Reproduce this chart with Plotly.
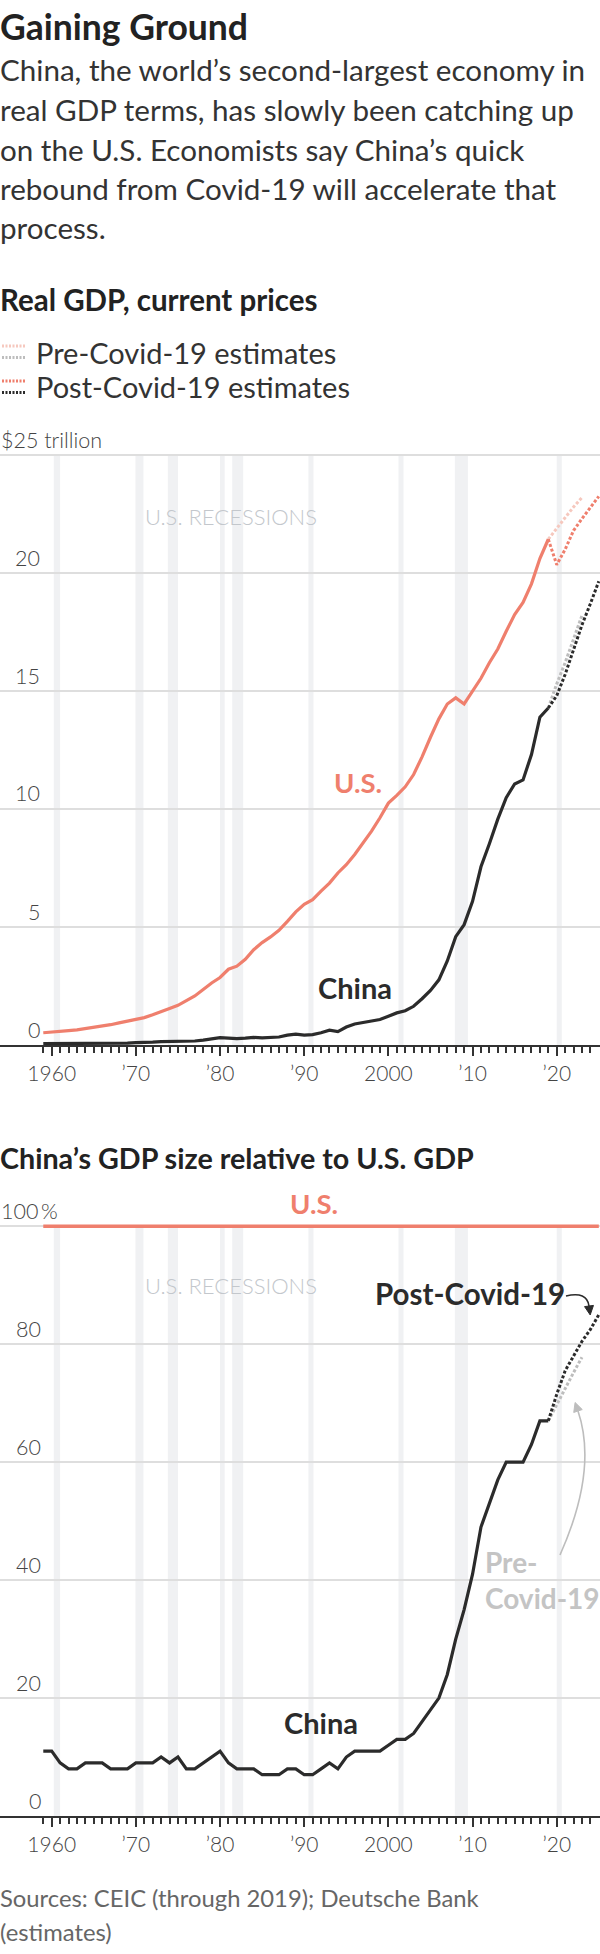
import plotly.graph_objects as go

W, H = 600, 1954
FONT = "Lato"

# ---------------- data ----------------
years_hist = list(range(1959, 2020))
us_gdp = [0.52, 0.54, 0.56, 0.61, 0.64, 0.69, 0.74, 0.82, 0.86, 0.94,
          1.02, 1.07, 1.16, 1.28, 1.43, 1.55, 1.68, 1.87, 2.08, 2.35,
          2.63, 2.86, 3.21, 3.34, 3.63, 4.04, 4.34, 4.58, 4.86, 5.24,
          5.64, 5.96, 6.16, 6.52, 6.86, 7.29, 7.64, 8.07, 8.58, 9.06,
          9.63, 10.25, 10.58, 10.94, 11.46, 12.21, 13.04, 13.82, 14.45, 14.71,
          14.45, 14.99, 15.54, 16.20, 16.78, 17.53, 18.24, 18.75, 19.54, 20.61,
          21.43]
china_gdp = [0.06, 0.06, 0.05, 0.05, 0.05, 0.06, 0.07, 0.07, 0.07, 0.08,
             0.08, 0.10, 0.10, 0.12, 0.14, 0.14, 0.17, 0.15, 0.17, 0.21,
             0.26, 0.31, 0.29, 0.27, 0.29, 0.32, 0.30, 0.32, 0.34, 0.42,
             0.46, 0.42, 0.44, 0.52, 0.63, 0.57, 0.76, 0.89, 0.95, 1.02,
             1.08, 1.22, 1.36, 1.45, 1.64, 1.96, 2.31, 2.76, 3.56, 4.59,
             5.10, 6.09, 7.55, 8.53, 9.57, 10.48, 11.06, 11.23, 12.31, 13.89,
             14.28]

years_pre = [2019, 2020, 2021, 2022, 2023]
us_pre = [21.43, 21.9, 22.35, 22.8, 23.2]
china_pre = [14.28, 15.3, 16.2, 17.2, 18.2]

years_post = [2019, 2020, 2021, 2022, 2023, 2024, 2025]
us_post = [21.43, 20.35, 21.0, 21.8, 22.3, 22.8, 23.25]
china_post = [14.28, 14.8, 15.7, 16.75, 17.8, 18.7, 19.65]

ratio_china = [11, 11, 9, 8, 8, 9, 9, 9, 8, 8,
               8, 9, 9, 9, 10, 9, 10, 8, 8, 9,
               10, 11, 9, 8, 8, 8, 7, 7, 7, 8,
               8, 7, 7, 8, 9, 8, 10, 11, 11, 11,
               11, 12, 13, 13, 14, 16, 18, 20, 24, 30,
               35, 41, 49, 53, 57, 60, 60, 60, 63, 67,
               67]
ratio_pre = [67, 69.8, 72.5, 75.2, 77.8]
ratio_post = [67, 71.5, 75.5, 78, 80.5, 82.5, 85]
us_ratio_years = [1959, 2025]
us_ratio = [100, 100]

recessions = [(1960.25, 1961.0), (1969.95, 1970.9), (1973.8, 1975.0),
              (1980.0, 1980.55), (1981.45, 1982.75), (1990.5, 1991.1),
              (2001.2, 2001.8), (2007.9, 2009.45), (2020.0, 2020.6)]

xtick_vals = [1960, 1970, 1980, 1990, 2000, 2010, 2020]
xtick_text = ["1960", "\u201970", "\u201980", "\u201990", "2000", "\u201910", "\u201920"]
minor_ticks = list(range(1959, 2025))

y1_ticks = [0, 5, 10, 15, 20, 25]
y1_text = ["0", "5", "10", "15", "20", "$25 trillion"]
y2_ticks = [0, 20, 40, 60, 80, 100]
y2_text = ["0", "20", "40", "60", "80", "100\u2009%"]

subtitle_lines = [
    "China, the world\u2019s second-largest economy in",
    "real GDP terms, has slowly been catching up",
    "on the U.S. Economists say China\u2019s quick",
    "rebound from Covid-19 will accelerate that",
    "process.",
]

# ---------------- colours ----------------
US_C = "#ef7f6d"
US_PRE = "#f6c8be"
CN_C = "#2b2b2b"
CN_PRE = "#bdbdbd"
BAND = "#f0f1f3"
GRID = "#dedede"
AX = "#333333"

# ---------------- geometry helpers ----------------
YEAR_PX0, PX_PER_YEAR = 51.7, 8.417  # 1960 at x=51.7
def year_at(px):
    return 1960 + (px - YEAR_PX0) / PX_PER_YEAR

XR = [year_at(0), year_at(W)]

def ydomain(v0, p0, v1, p1, lo, hi):
    k = (p0 - p1) / (v1 - v0)
    bot = p0 + (v0 - lo) * k
    top = p1 - (hi - v1) * k
    return [(H - bot) / H, (H - top) / H]

Y1R = [0, 25.3]
Y2R = [0, 101.5]
Y1D = ydomain(0, 1045, 25, 455, *Y1R)
Y2D = ydomain(0, 1816, 100, 1226.3, *Y2R)

def px(x, y):
    return f"{x / W:.5f},{1 - y / H:.5f}"

fig = go.Figure()

def line(x, y, color, width, dash=None, xa="x", ya="y"):
    fig.add_trace(go.Scatter(x=x, y=y, mode="lines", xaxis=xa, yaxis=ya,
                             line=dict(color=color, width=width, dash=dash),
                             hoverinfo="skip", showlegend=False))

DOT = "3px,2px"
# chart 1
line(years_pre, us_pre, US_PRE, 3, DOT)
line(years_pre, china_pre, CN_PRE, 3, DOT)
line(years_post, us_post, US_C, 3, DOT)
line(years_post, china_post, CN_C, 3, DOT)
line(years_hist, us_gdp, US_C, 3.2)
line(years_hist, china_gdp, CN_C, 3.2)
# chart 2
line(years_pre, ratio_pre, CN_PRE, 3, DOT, "x2", "y2")
line(years_post, ratio_post, CN_C, 3, DOT, "x2", "y2")
line(years_hist, ratio_china, CN_C, 3.2, None, "x2", "y2")
line(us_ratio_years, us_ratio, US_C, 3.5, None, "x2", "y2")

shapes = []
for a, b in recessions:
    shapes.append(dict(type="rect", xref="x", yref="y", x0=a, x1=b, y0=0, y1=25,
                       fillcolor=BAND, line=dict(width=0), layer="below"))
    shapes.append(dict(type="rect", xref="x2", yref="y2", x0=a, x1=b, y0=0, y1=100,
                       fillcolor=BAND, line=dict(width=0), layer="below"))

# legend swatches
def swatch(y, color):
    shapes.append(dict(type="line", xref="paper", yref="paper",
                       x0=2 / W, x1=25 / W, y0=1 - y / H, y1=1 - y / H,
                       line=dict(color=color, width=3, dash="2px,1.5px")))
swatch(346, US_PRE)
swatch(357.5, CN_PRE)
swatch(381, US_C)
swatch(392.5, CN_C)

# curved arrows
def arrow(p0, c, p1, color, width, head=9, half=5):
    shapes.append(dict(type="path", xref="paper", yref="paper",
                       path=f"M {px(*p0)} Q {px(*c)} {px(*p1)}",
                       line=dict(color=color, width=width)))
    dx, dy = p1[0] - c[0], p1[1] - c[1]
    n = (dx * dx + dy * dy) ** 0.5
    ux, uy = dx / n, dy / n
    tip = (p1[0] + ux * head, p1[1] + uy * head)
    b1 = (p1[0] - uy * half, p1[1] + ux * half)
    b2 = (p1[0] + uy * half, p1[1] - ux * half)
    shapes.append(dict(type="path", xref="paper", yref="paper",
                       path=f"M {px(*tip)} L {px(*b1)} L {px(*b2)} Z",
                       fillcolor=color, line=dict(color=color, width=1)))

arrow((566, 1296), (587, 1291), (589, 1306), "#2b2b2b", 1.6, head=9, half=4.5)
arrow((560, 1555), (598, 1470), (578, 1411), "#bdbdbd", 1.6, head=9, half=4.5)

ann = []
def text(t, x, y, size, color="#333", weight=400, xanchor="left"):
    ann.append(dict(text=t, x=x / W, y=1 - y / H, xref="paper", yref="paper",
                    xanchor=xanchor, yanchor="middle", showarrow=False,
                    borderpad=0, borderwidth=0,
                    font=dict(family=FONT, size=size, color=color, weight=weight)))

text("Gaining Ground", 0, 27, 35.5, "#222", 700)
for i, s in enumerate(subtitle_lines):
    text(s, 0, 70 + 39.5 * i, 29.6, "#333")
text("Real GDP, current prices", 0, 300, 29.5, "#222", 700)
text("Pre-Covid-19 estimates", 36, 352, 29, "#333")
text("Post-Covid-19 estimates", 36, 387, 29, "#333")

# y tick labels
def yticks(vals, labels, p0, p1, vmax, rx):
    k = (p0 - p1) / vmax
    for v, lab in zip(vals, labels):
        ypx = p0 - v * k - 15.5
        if v == vmax:
            text(lab, 1, ypx, 21.5, "#444", 300, "left")
        else:
            text(lab, rx, ypx, 21.5, "#444", 300, "right")
yticks(y1_ticks, y1_text, 1045, 455, 25, 40)
yticks(y2_ticks, y2_text, 1816, 1226.3, 100, 41)

text("U.S. RECESSIONS", 231, 516, 22, "#c3c7cc", 300, "center")
text("U.S. RECESSIONS", 231, 1285, 22, "#c3c7cc", 300, "center")
text("U.S.", 358, 782, 27.5, US_C, 700, "center")
text("China", 355, 987, 29, CN_C, 700, "center")

text("China\u2019s GDP size relative to U.S. GDP", 0, 1158, 28.7, "#222", 700)
text("U.S.", 314, 1203, 27.5, US_C, 700, "center")
text("Post-Covid-19", 565, 1293, 29.5, CN_C, 700, "right")
text("Pre-", 485, 1562, 28, "#c4c4c4", 700, "left")
text("Covid-19", 485, 1598, 28, "#c4c4c4", 700, "left")
text("China", 321, 1722, 29, CN_C, 700, "center")

text("Sources: CEIC (through 2019); Deutsche Bank", 0, 1898, 23.8, "#666")
text("(estimates)", 0, 1932, 23.8, "#666")

xax = dict(range=XR, domain=[0, 1], showgrid=False, zeroline=False,
           showline=True, linecolor=AX, linewidth=2,
           ticks="outside", ticklen=9, tickwidth=1.5, tickcolor=AX,
           tickvals=xtick_vals, ticktext=xtick_text,
           tickfont=dict(family=FONT, size=21, color="#444", weight=300),
           minor=dict(tickvals=minor_ticks, ticks="outside", ticklen=6,
                      tickwidth=1.5, tickcolor=AX),
           fixedrange=True)
yax = dict(showgrid=True, gridcolor=GRID, gridwidth=1.5, zeroline=False,
           showticklabels=False, ticks="", showline=False, fixedrange=True)

fig.update_layout(
    width=W, height=H, margin=dict(l=0, r=0, t=0, b=0),
    paper_bgcolor="white", plot_bgcolor="white",
    showlegend=False,
    xaxis=dict(xax, anchor="y"),
    xaxis2=dict(xax, anchor="y2"),
    yaxis=dict(yax, domain=Y1D, range=Y1R, tickvals=y1_ticks, anchor="x"),
    yaxis2=dict(yax, domain=Y2D, range=Y2R, tickvals=y2_ticks, anchor="x2"),
    shapes=shapes, annotations=ann,
    font=dict(family=FONT),
)

fig.write_html("out.html", config={"displayModeBar": False},
               post_script="document.body.style.margin='0';document.body.style.padding='0';")
